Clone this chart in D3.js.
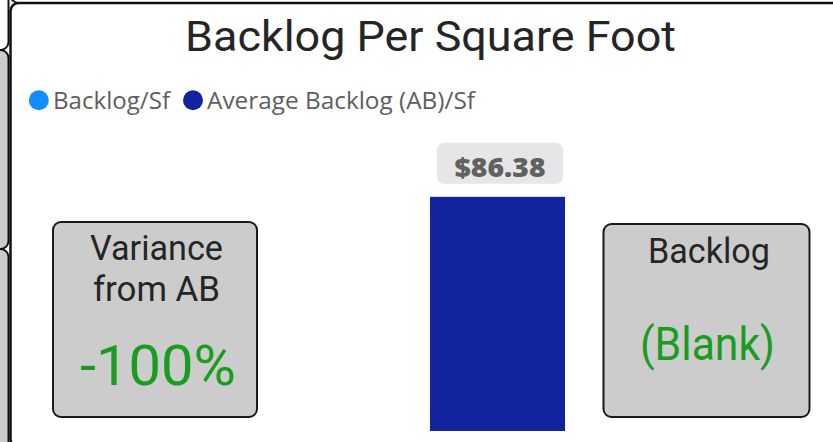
<!DOCTYPE html>
<html>
<head>
<meta charset="utf-8">
<script src="https://cdn.jsdelivr.net/npm/d3@7"></script>
<style>
  html, body { margin: 0; padding: 0; background: #fff; overflow: hidden; }
  svg { display: block; }
</style>
</head>
<body>
<svg id="chart" width="833" height="442"></svg>
<script>
// ---- data ----
const titleText = "Backlog Per Square Foot";
const series = ["Backlog/Sf", "Average Backlog (AB)/Sf"];
const seriesValues = [0, 86.38];           // Backlog/Sf is (Blank)
const seriesColors = ["#118DFF", "#12239E"];
const valueLabels = ["", "$86.38"];
const yDomain = [0, 90];
const cardLabels = [["Variance", "from AB"], ["Backlog"]];
const cardValues = ["-100%", "(Blank)"];

const svg = d3.select("#chart");

function fit(sel, w) {
  sel.attr("textLength", w).attr("lengthAdjust", "spacingAndGlyphs");
  return sel;
}

// ---- surrounding panels (cut off at the edges) ----
const bg = svg.append("g");
bg.append("rect").attr("x", -40).attr("y", -120).attr("width", 48.5).attr("height", 170)
  .attr("rx", 8).attr("fill", "#fff").attr("stroke", "#111").attr("stroke-width", 2);
bg.append("rect").attr("x", -40).attr("y", 50).attr("width", 48.5).attr("height", 199)
  .attr("rx", 8).attr("fill", "#ccc").attr("stroke", "#111").attr("stroke-width", 2);
bg.append("rect").attr("x", -40).attr("y", 249).attr("width", 48.5).attr("height", 260)
  .attr("rx", 8).attr("fill", "#ccc").attr("stroke", "#111").attr("stroke-width", 2);
bg.append("rect").attr("x", 10.5).attr("y", -120).attr("width", 900).attr("height", 123)
  .attr("rx", 8).attr("fill", "#fff").attr("stroke", "#111").attr("stroke-width", 2);
bg.append("rect").attr("x", 10.5).attr("y", 447).attr("width", 900).attr("height", 100)
  .attr("rx", 8).attr("fill", "#fff").attr("stroke", "#111").attr("stroke-width", 2);

// ---- main frame ----
svg.append("rect").attr("x", 10.5).attr("y", 3).attr("width", 900).attr("height", 444)
  .attr("rx", 8).attr("fill", "#fff").attr("stroke", "#111").attr("stroke-width", 2.5);

// ---- title ----
fit(svg.append("text").attr("x", 430.5).attr("y", 51).attr("text-anchor", "middle")
  .style("font-family", "Roboto").style("font-size", "42px").attr("fill", "#252525")
  .text(titleText), 491);

// ---- legend ----
const legendPos = [{cx: 38.8, tx: 53, w: 117}, {cx: 193, tx: 207, w: 268}];
const leg = svg.append("g");
series.forEach((s, i) => {
  leg.append("circle").attr("cx", legendPos[i].cx).attr("cy", 100.3).attr("r", 10)
    .attr("fill", seriesColors[i]);
  fit(leg.append("text").attr("x", legendPos[i].tx).attr("y", 109.3)
    .style("font-family", "'Open Sans'").style("font-size", "24px").attr("fill", "#605E5C")
    .text(s), legendPos[i].w);
});

// ---- column chart ----
const y = d3.scaleLinear().domain(yDomain).range([431, 187]);
const x = d3.scaleBand().domain(series).range([295, 565]).padding(0);

const bars = svg.append("g");
bars.selectAll("rect").data(series).join("rect")
  .attr("x", d => x(d))
  .attr("width", x.bandwidth())
  .attr("y", (d, i) => y(seriesValues[i]))
  .attr("height", (d, i) => y(0) - y(seriesValues[i]))
  .attr("fill", (d, i) => seriesColors[i]);

series.forEach((s, i) => {
  if (!valueLabels[i]) return;
  const cx = x(s) + x.bandwidth() / 2 + 2.5;
  const top = y(seriesValues[i]);
  bars.append("rect").attr("x", cx - 63).attr("y", top - 54).attr("width", 126).attr("height", 41)
    .attr("rx", 7).attr("fill", "#E6E6E6");
  fit(bars.append("text").attr("x", cx).attr("y", top - 20).attr("text-anchor", "middle")
    .style("font-family", "'Open Sans'").style("font-weight", "800").style("font-size", "26px")
    .attr("fill", "#616161").text(valueLabels[i]), 91);
});

// ---- cards ----
const cards = [
  {x: 53, y: 222, w: 204, h: 195, lines: [{cx: 156.5, by: 260, w: 133}, {cx: 156.5, by: 300.5, w: 127}],
   val: {cx: 158, by: 385, w: 156, size: 56}},
  {x: 603.5, y: 224, w: 206, h: 193, lines: [{cx: 709, by: 263, w: 122}],
   val: {cx: 707.5, by: 360, w: 135, size: 46}}
];
cards.forEach((c, i) => {
  const g = svg.append("g");
  g.append("rect").attr("x", c.x).attr("y", c.y).attr("width", c.w).attr("height", c.h)
    .attr("rx", 8).attr("fill", "#CCCCCC").attr("stroke", "#1a1a1a").attr("stroke-width", 2);
  cardLabels[i].forEach((t, j) => {
    fit(g.append("text").attr("x", c.lines[j].cx).attr("y", c.lines[j].by).attr("text-anchor", "middle")
      .style("font-family", "Roboto").style("font-size", "35px").attr("fill", "#252525")
      .text(t), c.lines[j].w);
  });
  fit(g.append("text").attr("x", c.val.cx).attr("y", c.val.by).attr("text-anchor", "middle")
    .style("font-family", "Roboto").style("font-size", c.val.size + "px").attr("fill", "#1A9C1F")
    .text(cardValues[i]), c.val.w);
});
</script>
</body>
</html>
